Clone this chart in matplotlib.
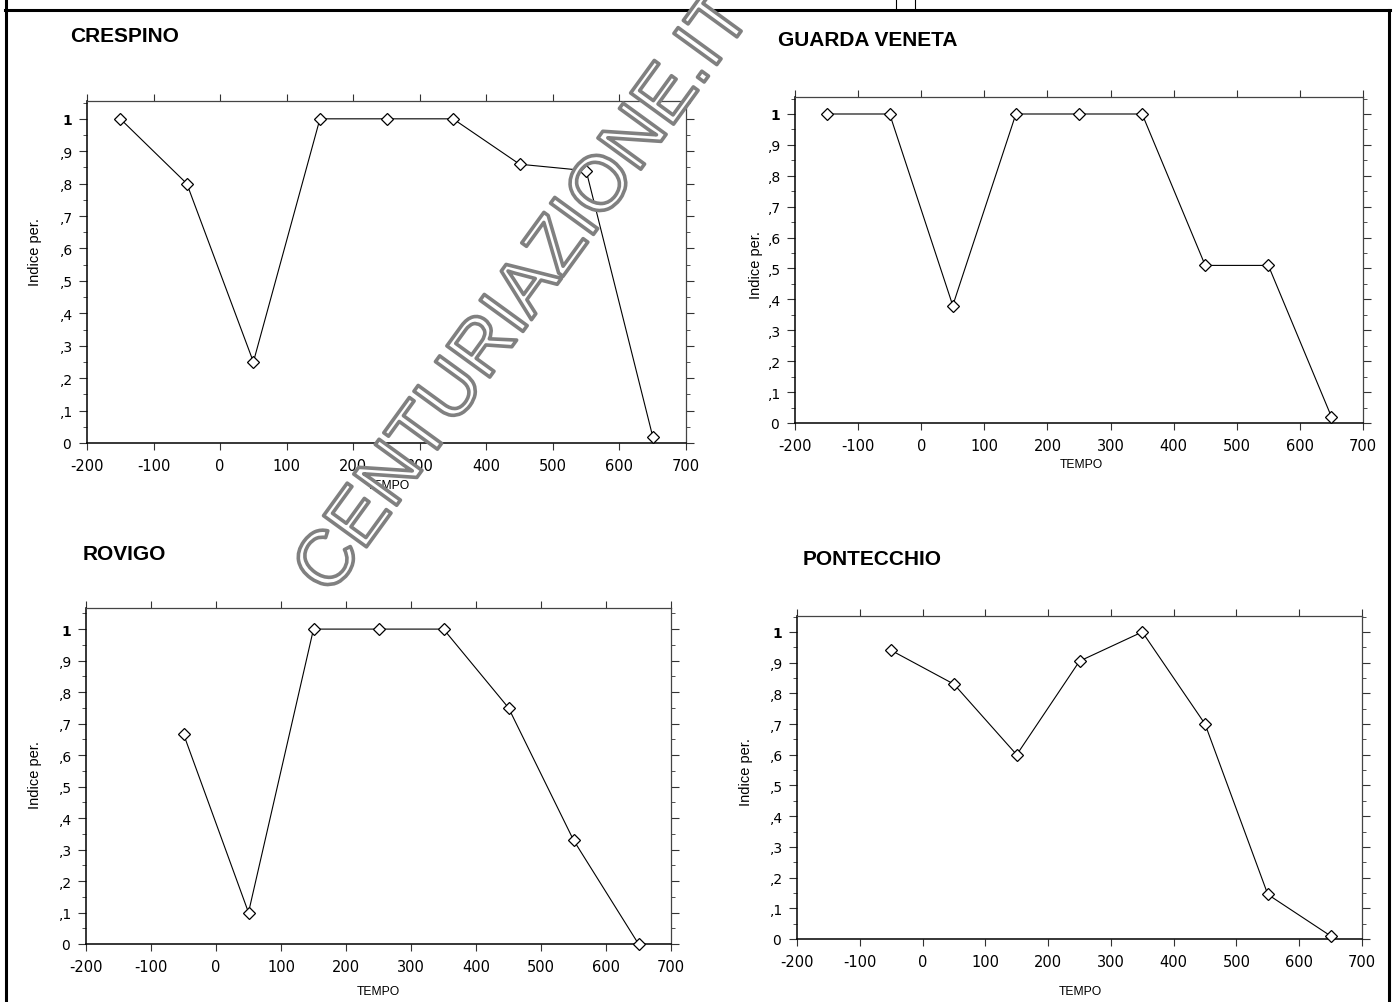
import numpy as np
import matplotlib
matplotlib.use('Agg')
import matplotlib.pyplot as plt
from matplotlib.lines import Line2D
from matplotlib.ticker import MultipleLocator
from matplotlib import font_manager
import matplotlib.patheffects as pe

plt.rcParams['font.family'] = ['Liberation Sans', 'DejaVu Sans']

# data
tempo = [-150, -50, 50, 150, 250, 350, 450, 550, 650]
crespino = [1.0, 0.80, 0.25, 1.0, 1.0, 1.0, 0.86, 0.84, 0.02]
guarda_veneta = [1.0, 1.0, 0.38, 1.0, 1.0, 1.0, 0.51, 0.51, 0.02]
rovigo = [np.nan, 0.667, 0.10, 1.0, 1.0, 1.0, 0.75, 0.33, 0.0]
pontecchio = [np.nan, 0.94, 0.83, 0.60, 0.905, 1.0, 0.70, 0.145, 0.01]

titles = ['CRESPINO', 'GUARDA VENETA', 'ROVIGO', 'PONTECCHIO']
series = [crespino, guarda_veneta, rovigo, pontecchio]
xticks = list(range(-200, 701, 100))
xlabels = [str(v) for v in xticks]
yticks = [i / 10 for i in range(11)]
ylabels = ['0', ',1', ',2', ',3', ',4', ',5', ',6', ',7', ',8', ',9', '1']

W, H = 1394, 1003
fig = plt.figure(figsize=(W / 100, H / 100), dpi=100)

def fx(x):
    return x / W

def fy(y):
    return 1 - y / H

# axes box in pixels: left, top, right, bottom(y=0); title pos; ylabel pos; xlabel pos
layout = [
    dict(box=(87, 102, 686, 444), ytop=1.055, title=(70, 37), ylab=(35, 252), xlab=(388, 486)),
    dict(box=(795, 98, 1363, 424), ytop=1.055, title=(778, 41), ylab=(756, 265), xlab=(1081, 465)),
    dict(box=(86, 609, 671, 945), ytop=1.067, title=(83, 555), ylab=(35, 775), xlab=(378, 992)),
    dict(box=(797, 617, 1362, 940), ytop=1.052, title=(803, 560), ylab=(746, 772), xlab=(1080, 992)),
]

for name, vals, lay in zip(titles, series, layout):
    l, t, r, b = lay['box']
    ax = fig.add_axes([fx(l), fy(b), fx(r - l), (b - t) / H])
    ax.plot(tempo, vals, color='black', lw=0.8, marker='D', markersize=6.2,
            markerfacecolor='white', markeredgecolor='black', markeredgewidth=0.9,
            clip_on=False, zorder=3)
    ax.set_xlim(-200, 700)
    ax.set_ylim(0, lay['ytop'])
    ax.set_xticks(xticks)
    ax.set_xticklabels(xlabels, fontsize=10.5, family='DejaVu Sans')
    ax.set_yticks(yticks)
    ax.set_yticklabels(ylabels, fontsize=10, family='DejaVu Sans')
    ax.yaxis.set_minor_locator(MultipleLocator(0.05))
    for lab in ax.get_yticklabels():
        lab.set_ha('center')
    ax.get_yticklabels()[-1].set_fontweight('bold')
    ax.tick_params(axis='x', which='major', direction='out', length=5, width=0.8,
                   top=True, bottom=True, labeltop=False, pad=6, color='#333333')
    ax.tick_params(axis='y', which='major', direction='out', length=6, width=0.8,
                   left=True, right=True, labelright=False, pad=8.5, color='#333333')
    ax.tick_params(axis='y', which='minor', direction='out', length=3, width=0.6,
                   left=True, right=True, color='#333333')
    for s in ['left', 'bottom']:
        ax.spines[s].set_color('black')
        ax.spines[s].set_linewidth(1.1)
    for s in ['top', 'right']:
        ax.spines[s].set_color('#444444')
        ax.spines[s].set_linewidth(0.9)

    tx, ty = lay['title']
    fig.text(fx(tx), fy(ty), name, fontsize=15, fontweight='bold', ha='left', va='center')
    yx, yy = lay['ylab']
    fig.text(fx(yx), fy(yy), 'Indice per.', fontsize=10.5, rotation=90, ha='center', va='center')
    xx, xy = lay['xlab']
    fig.text(fx(xx), fy(xy), 'TEMPO', fontsize=8.7, ha='center', va='center')

# page frame from the scan
fig.add_artist(Line2D([fx(5), fx(1390)], [fy(11), fy(11)], transform=fig.transFigure, color='black', lw=2.2))
fig.add_artist(Line2D([fx(6), fx(6)], [fy(0), fy(1003)], transform=fig.transFigure, color='black', lw=2.2))
fig.add_artist(Line2D([fx(1389), fx(1389)], [fy(11), fy(1003)], transform=fig.transFigure, color='black', lw=2.2))
fig.add_artist(Line2D([fx(896), fx(896)], [fy(0), fy(11)], transform=fig.transFigure, color='black', lw=0.8))
fig.add_artist(Line2D([fx(915), fx(915)], [fy(0), fy(11)], transform=fig.transFigure, color='black', lw=0.8))

# watermark (narrow face if present)
names = {f.name for f in font_manager.fontManager.ttflist}
if 'Liberation Sans Narrow' in names:
    wm_family, wm_size = 'Liberation Sans Narrow', 67
else:
    wm_family, wm_size = 'Liberation Sans', 55.5
fig.text(fx(330), fy(598), 'CENTURIAZIONE.IT', fontsize=wm_size, family=wm_family,
         color='white', rotation=54, rotation_mode='anchor', ha='left', va='baseline',
         zorder=10, path_effects=[pe.Stroke(linewidth=2.6, foreground='#808080')])

fig.savefig('out.png', dpi=100)
